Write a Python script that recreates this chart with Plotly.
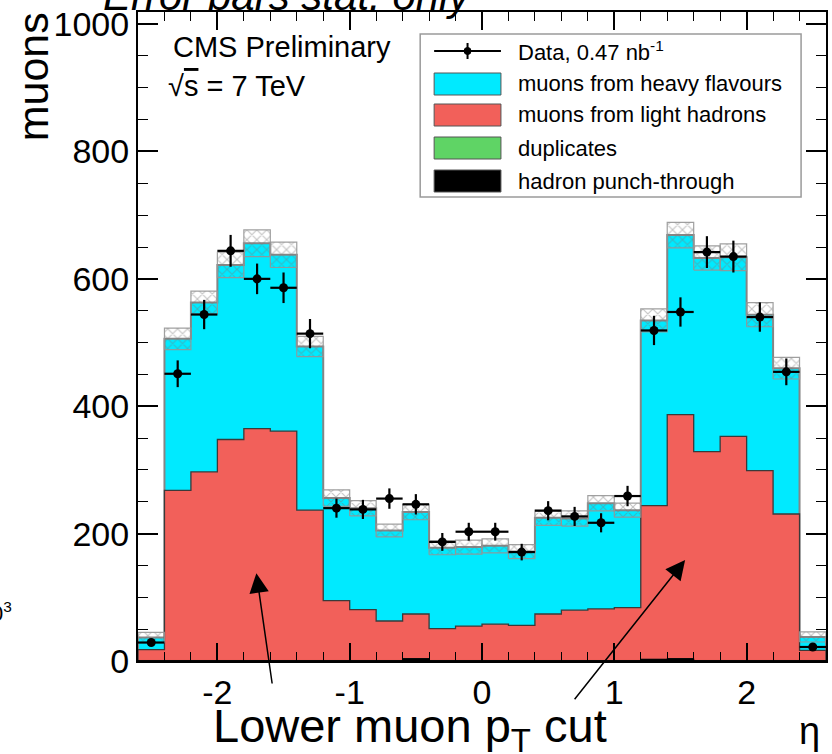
import numpy as np
import plotly.graph_objects as go

# ---------------- data ----------------
eta_edges = [-2.6, -2.4, -2.2, -2.0, -1.8, -1.6, -1.4, -1.2, -1.0, -0.8, -0.6, -0.4, -0.2, 0.0,
             0.2, 0.4, 0.6, 0.8, 1.0, 1.2, 1.4, 1.6, 1.8, 2.0, 2.2, 2.4, 2.6]
data_counts = [29, 451, 544, 644, 600, 586, 514, 240, 238, 255, 246, 187, 203,
               203, 171, 236, 227, 217, 259, 519, 548, 642, 635, 540, 454, 22]
data_err = [5, 21, 23, 25, 24, 24, 23, 15, 15, 16, 16, 14, 14,
            14, 13, 15, 15, 15, 16, 23, 23, 25, 25, 23, 21, 5]
punch_through = [0.5, 0.5, 0.5, 0.5, 0.5, 0.5, 0.5, 0.5, 0.5, 0.5, 3.5, 0.5, 0.5,
                 0.5, 0.5, 0.5, 0.5, 0.5, 0.5, 2.5, 3.5, 0.5, 0.5, 0.5, 0.5, 0.5]
duplicates = [0.3, 0.3, 0.3, 0.3, 0.3, 0.3, 0.3, 0.3, 0.3, 0.3, 0.3, 0.3, 0.3,
              0.3, 0.3, 0.3, 0.3, 0.3, 0.3, 0.3, 0.3, 0.3, 0.3, 0.3, 0.3, 0.3]
light_hadrons = [17, 267, 296, 347, 364, 360, 236, 94, 80, 62, 70, 50, 54,
                 57, 55, 73, 79, 81, 83, 241, 383, 328, 352, 298, 230, 16]
heavy_flavours = [19, 238, 266, 274, 291, 277, 257, 161, 159, 142, 160, 127, 124,
                  123, 116, 151, 144, 166, 153, 291, 282, 304, 281, 245, 229, 21]
mc_err = [8, 17, 18, 20, 21, 20, 16, 13, 12, 10, 12, 11, 11,
          11, 11, 12, 12, 12, 11, 18, 20, 19, 21, 19, 17, 8]

y_ticks = [0, 200, 400, 600, 800, 1000]
x_ticks = [-2, -1, 0, 1, 2]

# ---------------- geometry helpers ----------------
FIG_W, FIG_H = 832, 754
L, R, T, B = 138, 828, 12, 661
PW, PH = R - L, B - T


def px(x):
    return (x - L) / PW


def py(y):
    return (B - y) / PH


edges = np.array(eta_edges)
centers = 0.5 * (edges[:-1] + edges[1:])
halfw = 0.5 * (edges[1:] - edges[:-1])

s_punch = np.array(punch_through)
s_dup = s_punch + np.array(duplicates)
s_light = s_dup + np.array(light_hadrons)
s_total = s_light + np.array(heavy_flavours)
err = np.array(mc_err)


def step(vals):
    xs = [edges[0]] + list(edges[:-1]) + [edges[-1], edges[-1]]
    ys = [0] + list(vals) + [vals[-1], 0]
    return xs, ys


CYAN = '#00EAFF'
RED = '#F2605A'
GREEN = '#5FD465'

fig = go.Figure()

for vals, fill, line, lw in [(s_total, CYAN, '#858585', 2.0),
                             (s_light, RED, '#3a3a3a', 1.3),
                             (s_dup, GREEN, '#2a2a2a', 1.0),
                             (s_punch, 'black', 'black', 1.0)]:
    xs, ys = step(vals)
    fig.add_trace(go.Scatter(x=xs, y=ys, mode='lines', line=dict(shape='hv', color=line, width=lw),
                             fill='tozeroy', fillcolor=fill, hoverinfo='skip'))

# hatched MC uncertainty band
bx, by = [], []
for i in range(len(centers)):
    xl, xr = edges[i], edges[i + 1]
    lo, hi = s_total[i] - err[i], s_total[i] + err[i]
    bx += [xl, xr, xr, xl, xl, None]
    by += [lo, lo, hi, hi, lo, None]
fig.add_trace(go.Scatter(x=bx, y=by, mode='lines', fill='toself',
                         line=dict(color='rgba(150,150,150,0.9)', width=1.2),
                         fillcolor='rgba(0,0,0,0)',
                         fillpattern=dict(shape='x', size=7, solidity=0.3, fgcolor='#7a7a7a',
                                          fgopacity=0.45, bgcolor='rgba(0,0,0,0)'),
                         hoverinfo='skip'))

# data points
fig.add_trace(go.Scatter(x=centers, y=data_counts, mode='markers',
                         marker=dict(color='black', size=9),
                         error_y=dict(type='data', array=data_err, color='black', thickness=2.2, width=0),
                         error_x=dict(type='data', array=halfw, color='black', thickness=2.2, width=0)))

fig.update_layout(
    width=FIG_W, height=FIG_H,
    margin=dict(l=L, r=FIG_W - R, t=T, b=FIG_H - B),
    paper_bgcolor='white', plot_bgcolor='white',
    showlegend=False,
    font=dict(family='Liberation Sans, Arial, sans-serif', color='black'),
)
fig.update_xaxes(range=[-2.6, 2.6], tickvals=x_ticks, ticktext=[str(v) for v in x_ticks],
                 ticks='inside', ticklen=18, tickwidth=1.5, tickcolor='black',
                 showline=True, linecolor='black', linewidth=2, mirror='allticks',
                 showgrid=False, zeroline=False, tickfont=dict(size=34),
                 minor=dict(dtick=0.2, tick0=0, ticks='inside', ticklen=9, tickwidth=1.2,
                            tickcolor='black', showgrid=False))
fig.update_yaxes(range=[0, 1019], tickvals=y_ticks, ticktext=[str(v) for v in y_ticks],
                 ticks='inside', ticklen=20, tickwidth=1.5, tickcolor='black',
                 showline=True, linecolor='black', linewidth=2, mirror='allticks',
                 showgrid=False, zeroline=False, tickfont=dict(size=34),
                 minor=dict(dtick=50, tick0=0, ticks='inside', ticklen=10, tickwidth=1.2,
                            tickcolor='black', showgrid=False))

ann = []


def text(x, y, s, size, xanchor='left', yanchor='middle', angle=0, italic=False):
    fam = 'Liberation Sans, Arial, sans-serif'
    if italic:
        s = '<i>' + s + '</i>'
    ann.append(dict(x=px(x), y=py(y), xref='paper', yref='paper', text=s, showarrow=False,
                    xanchor=xanchor, yanchor=yanchor, textangle=angle,
                    font=dict(size=size, family=fam, color='black')))


text(101, -5, 'Error bars stat. only', 42, italic=True)
text(33, 77, 'muons', 43, xanchor='center', angle=-90)
text(171, 47, 'CMS Preliminary', 29)
text(166, 86, '√<span style="text-decoration:overline">s</span> = 7 TeV', 29)
text(211, 729, 'Lower muon p<sub>T</sub> cut', 47)
text(811, 731, 'η', 38, xanchor='center')
text(14, 612, '0<sup>3</sup>', 22, xanchor='right')

# arrows
for (tx, ty), (sx, sy) in [((256.7, 573.3), (272.7, 685)), ((686.7, 560), (575, 700.7))]:
    ann.append(dict(x=px(tx), y=py(ty), xref='paper', yref='paper', text='', showarrow=True,
                    ax=sx - tx, ay=sy - ty, arrowhead=2, arrowsize=2.6, arrowwidth=1.5,
                    arrowcolor='black'))

# legend (manual)
shapes = []
shapes.append(dict(type='rect', xref='paper', yref='paper', x0=px(421), x1=px(803), y0=py(34), y1=py(197),
                   line=dict(color='#9a9a9a', width=1.5), fillcolor='white', layer='above'))
sw_x0, sw_x1 = 435, 502
rows = [51, 84, 115, 148, 181]
# data symbol
shapes.append(dict(type='line', xref='paper', yref='paper', x0=px(sw_x0), x1=px(sw_x1), y0=py(rows[0]), y1=py(rows[0]),
                   line=dict(color='black', width=2), layer='above'))
shapes.append(dict(type='line', xref='paper', yref='paper', x0=px(468.5), x1=px(468.5), y0=py(rows[0] - 8), y1=py(rows[0] + 8),
                   line=dict(color='black', width=2), layer='above'))
shapes.append(dict(type='circle', xref='paper', yref='paper', x0=px(465), x1=px(472), y0=py(rows[0] - 3.5), y1=py(rows[0] + 3.5),
                   line=dict(color='black', width=1), fillcolor='black', layer='above'))
for r, col in zip(rows[1:], [CYAN, RED, GREEN, 'black']):
    shapes.append(dict(type='rect', xref='paper', yref='paper', x0=px(sw_x0), x1=px(sw_x1), y0=py(r - 11), y1=py(r + 11),
                       line=dict(color='#555555', width=1), fillcolor=col, layer='above'))
labels = ['Data, 0.47 nb<sup>-1</sup>', 'muons from heavy flavours', 'muons from light hadrons',
          'duplicates', 'hadron punch-through']
for r, lab in zip(rows, labels):
    text(517, r, lab, 22)

fig.update_layout(annotations=ann, shapes=shapes)
fig.write_html('out.html')
